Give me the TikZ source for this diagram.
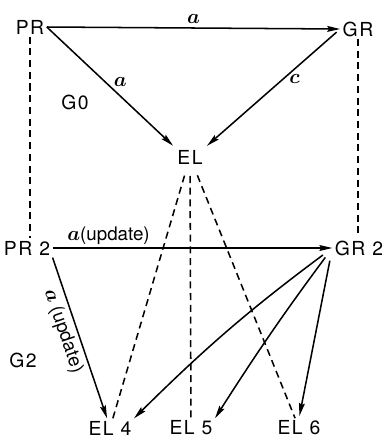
\documentclass[tikz,border=0pt]{standalone}
\usepackage{amsmath,amssymb}
\usepackage{fontspec}
\setmainfont{TeX Gyre Heros}
\newfontfamily\unitfont[LetterSpace=8]{TeX Gyre Heros}
\usetikzlibrary{arrows.meta}

\begin{document}
\begin{tikzpicture}[x=0.03cm,y=-0.03cm,
	every node/.style={font=\fontsize{16}{18}\selectfont},
	unit/.style={font=\fontsize{16.5}{18}\selectfont\unitfont, inner sep=2pt},
	link/.style={line width=1.3pt, -{Stealth[length=11pt,width=5pt,inset=1.5pt]}},
	tie/.style={line width=1.3pt, dash pattern=on 6pt off 4pt}]
	\useasboundingbox (0,0) rectangle (384,441);
	\node[unit] (PR) at (30,27) {PR};
	\node[unit] (GR) at (358,29) {GR};
	\node[unit] (EL) at (190,157) {EL};
	\node[unit] (PR2) at (27,248) {PR 2};
	\node[unit] (GR2) at (359,248) {GR 2};
	\node[unit] (EL4) at (110,428) {EL 4};
	\node[unit] (EL5) at (191,428) {EL 5};
	\node[unit] (EL6) at (299,428) {EL 6};
	\node[unit] (G0) at (75,102) {G0};
	\node[unit] (G2) at (23,360) {G2};
	% G0 level
	\draw[link] (PR.east) -- (GR.west) node[midway, above=0pt] {$\boldsymbol{a}$};
	\draw[link, shorten >=2pt] (PR.east) -- (EL.north west) node[pos=0.46, right=3pt] {$\boldsymbol{a}$};
	\draw[link, shorten <=4pt, shorten >=2pt] (GR.west) -- (EL.north east) node[pos=0.42, right=1pt] {$\boldsymbol{c}$};
	\draw[tie] (PR.south) -- (PR.south |- PR2.north);
	\draw[tie] (GR.south) -- (GR.south |- GR2.north);
	\draw[tie, shorten <=8pt] (EL) -- (EL4);
	\draw[tie, shorten <=8pt] (EL) -- (EL5);
	\draw[tie, shorten <=8pt] (EL) -- (EL6);
	% G2 level
	\draw[link] (PR2.east) -- (GR2.west) node[pos=0.2, above=-1pt] {$\boldsymbol{a}$(update)};
	\draw[link] (PR2.south east) -- (EL4.107) node[pos=0.43, sloped, below=0pt] {$\boldsymbol{a}$ (update)};
	\draw[link, shorten <=10pt] (GR2.west) to[bend right=4] (EL4.north east);
	\draw[link, shorten <=10pt] (GR2.west) to[bend right=2] (EL5.north east);
	\draw[link, shorten <=11pt, shorten >=2pt] (GR2.west) -- (EL6.north);
\end{tikzpicture}
\end{document}
